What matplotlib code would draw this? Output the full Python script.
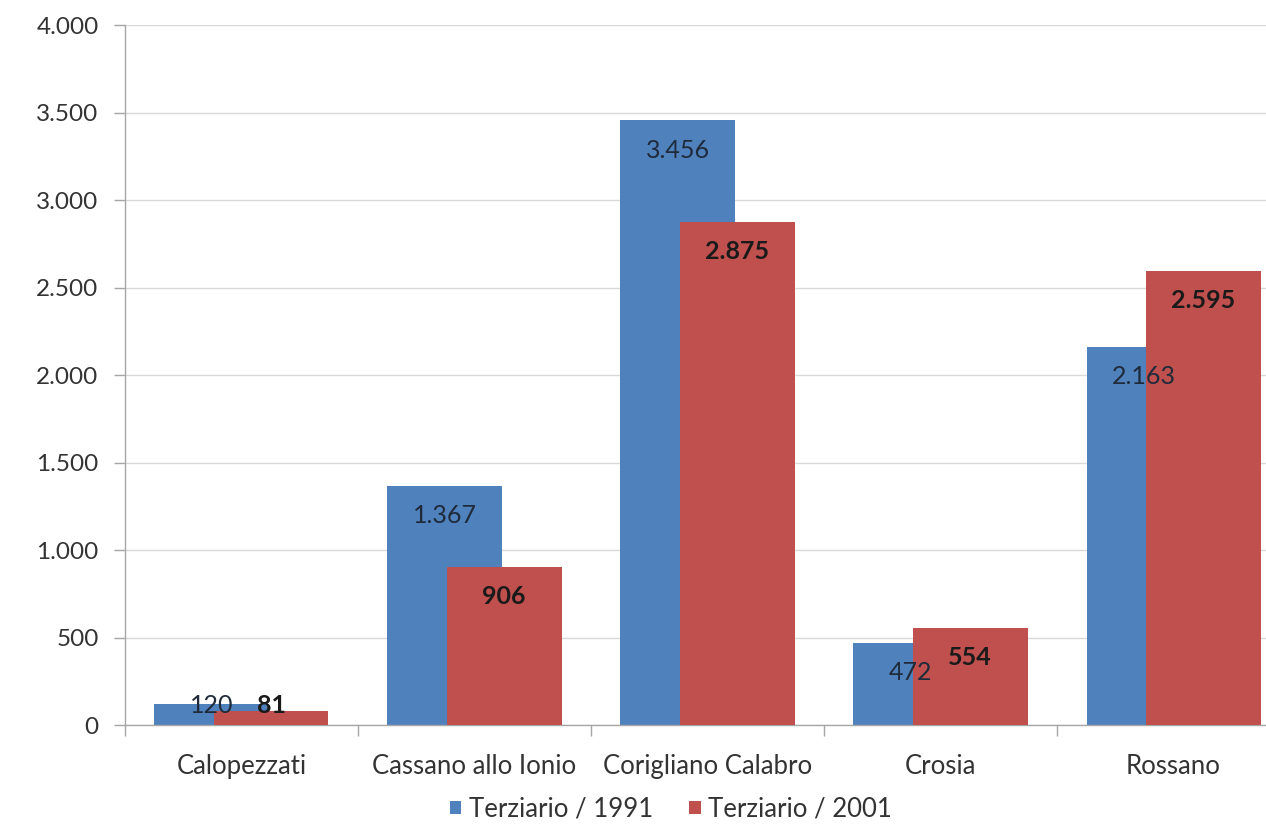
import matplotlib
matplotlib.use("Agg")
import matplotlib.pyplot as plt
from matplotlib.ticker import FuncFormatter, FixedLocator
import numpy as np

comuni = ["Calopezzati", "Cassano allo Ionio", "Corigliano Calabro", "Crosia", "Rossano"]
terziario_1991 = [120, 1367, 3456, 472, 2163]
terziario_2001 = [81, 906, 2875, 554, 2595]
series_labels = ["Terziario / 1991", "Terziario / 2001"]
y_ticks = [0, 500, 1000, 1500, 2000, 2500, 3000, 3500, 4000]

BLUE = "#4F81BD"
RED = "#C0504D"
TEXT = "#333333"
GRID = "#D9D9D9"
AXIS = "#A6A6A6"

plt.rcParams["font.family"] = ["Lato", "DejaVu Sans"]

fig = plt.figure(figsize=(12.66, 8.24), dpi=100)
ax = fig.add_axes([0.0987, 0.120, 0.9203, 0.8495])

x = np.arange(len(comuni))
width = 0.493
offset = 0.127

b1 = ax.bar(x - offset, terziario_1991, width, color=BLUE, zorder=2, label=series_labels[0])
b2 = ax.bar(x + offset, terziario_2001, width, color=RED, zorder=3, label=series_labels[1])

def fmt_it(v):
    return f"{int(v):,}".replace(",", ".")

# value labels sit just inside the top of each bar (never below the baseline area)
label_drop = 170
for xi, v in zip(x - offset, terziario_1991):
    ax.text(xi, max(v - label_drop, 114), fmt_it(v),
            ha="center", va="center", fontsize=18, color="#1F2A3A", zorder=5)
for xi, v in zip(x + offset, terziario_2001):
    ax.text(xi, max(v - label_drop, 114), fmt_it(v),
            ha="center", va="center", fontsize=18, color="#1A1A1A", fontweight="bold", zorder=5)

ax.set_xlim(-0.5, len(comuni) - 0.5)
ax.set_ylim(0, 4000)
ax.yaxis.set_major_locator(FixedLocator(y_ticks))
ax.yaxis.set_major_formatter(FuncFormatter(lambda v, p: fmt_it(v)))
ax.grid(axis="y", color=GRID, linewidth=1.0, zorder=0)
ax.set_axisbelow(True)

# category labels centred, tick marks on category boundaries
ax.set_xticks(x)
ax.set_xticklabels(comuni, fontsize=18.5, color=TEXT)
ax.tick_params(axis="x", which="major", length=0, pad=21)
ax.set_xticks(np.arange(-0.5, len(comuni), 1.0), minor=True)
ax.tick_params(axis="x", which="minor", length=8, color=AXIS, width=1)
ax.tick_params(axis="y", length=8, color=AXIS, width=1, labelsize=17.5, labelcolor=TEXT, pad=11)

for s in ("top", "right"):
    ax.spines[s].set_visible(False)
for s in ("left", "bottom"):
    ax.spines[s].set_color(AXIS)
    ax.spines[s].set_linewidth(1)

fig.legend(handles=[b1, b2], labels=series_labels, loc="center", bbox_to_anchor=(0.53, 0.018),
           ncol=2, frameon=False, fontsize=18.5, handlelength=0.45, handleheight=0.45,
           handletextpad=0.3, columnspacing=1.4, labelcolor=TEXT)

fig.savefig("out.png", dpi=100, facecolor="white")
